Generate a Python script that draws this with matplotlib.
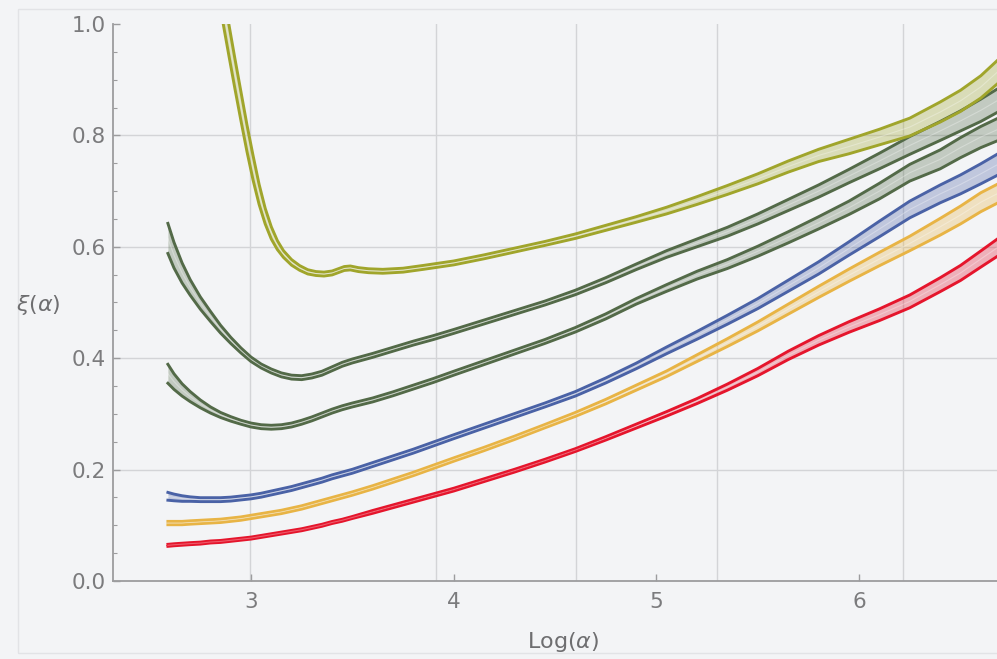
import numpy as np
import matplotlib
matplotlib.use("Agg")
import matplotlib.pyplot as plt
from matplotlib.ticker import MultipleLocator, FormatStrFormatter
from matplotlib.patches import Rectangle

plt.rcParams["font.family"] = ["DejaVu Sans"]
plt.rcParams["mathtext.fontset"] = "dejavusans"

# ---- data -------------------------------------------------------------
log_alpha = [2.59, 2.62, 2.66, 2.70, 2.75, 2.80, 2.85, 2.90, 2.95, 3.00,
             3.05, 3.10, 3.15, 3.20, 3.25, 3.30, 3.35, 3.40, 3.45, 3.50,
             3.60, 3.70, 3.80, 3.90, 4.00, 4.15, 4.30, 4.45, 4.60, 4.75,
             4.90, 5.05, 5.20, 5.35, 5.50, 5.65, 5.80, 5.95, 6.10, 6.25,
             6.40, 6.50, 6.60, 6.68]

red_mid = [0.064, 0.065, 0.066, 0.067, 0.068, 0.070, 0.071, 0.073, 0.075,
           0.077, 0.080, 0.083, 0.086, 0.089, 0.092, 0.096, 0.100, 0.105,
           0.109, 0.114, 0.124, 0.134, 0.144, 0.154, 0.164, 0.181, 0.198,
           0.216, 0.235, 0.256, 0.278, 0.300, 0.323, 0.348, 0.375, 0.405,
           0.432, 0.456, 0.478, 0.502, 0.532, 0.553, 0.578, 0.598]
red_err = [0.0018] * 20 + [0.0025] * 9 + [0.003, 0.0035, 0.004, 0.0045,
                                          0.0055, 0.0065, 0.0075, 0.0085,
                                          0.0095, 0.0105, 0.0115, 0.0125,
                                          0.0135, 0.0145, 0.0155]

yellow_mid = [0.104, 0.104, 0.104, 0.105, 0.106, 0.107, 0.108, 0.110, 0.112,
              0.115, 0.118, 0.121, 0.124, 0.128, 0.132, 0.137, 0.142, 0.147,
              0.152, 0.157, 0.168, 0.180, 0.192, 0.205, 0.218, 0.237, 0.257,
              0.278, 0.299, 0.322, 0.347, 0.372, 0.400, 0.428, 0.457, 0.488,
              0.519, 0.549, 0.578, 0.606, 0.636, 0.657, 0.680, 0.695]
yellow_err = [0.003] * 28 + [0.0035, 0.004, 0.0045, 0.005, 0.006, 0.007,
                             0.008, 0.009, 0.010, 0.011, 0.012, 0.013,
                             0.015, 0.016, 0.017, 0.017]

blue_mid = [0.152, 0.150, 0.148, 0.147, 0.146, 0.146, 0.146, 0.147, 0.149,
            0.151, 0.154, 0.158, 0.162, 0.166, 0.171, 0.176, 0.181, 0.187,
            0.192, 0.197, 0.209, 0.221, 0.233, 0.246, 0.259, 0.278, 0.297,
            0.316, 0.336, 0.360, 0.386, 0.414, 0.441, 0.469, 0.498, 0.530,
            0.562, 0.597, 0.632, 0.667, 0.695, 0.712, 0.731, 0.747]
blue_err = [0.007, 0.006, 0.005, 0.004] + [0.0035] * 24 + [
    0.004, 0.0045, 0.005, 0.006, 0.007, 0.008, 0.009, 0.010, 0.011, 0.012,
    0.014, 0.015, 0.016, 0.017, 0.018, 0.019]

green_lo_mid = [0.372, 0.358, 0.343, 0.331, 0.318, 0.307, 0.298, 0.291,
                0.285, 0.280, 0.277, 0.276, 0.277, 0.280, 0.285, 0.291,
                0.298, 0.305, 0.311, 0.316, 0.325, 0.336, 0.348, 0.360,
                0.373, 0.392, 0.411, 0.430, 0.451, 0.475, 0.502, 0.526,
                0.549, 0.569, 0.592, 0.617, 0.643, 0.670, 0.700, 0.733,
                0.757, 0.778, 0.797, 0.810]
green_lo_err = [0.017, 0.014, 0.011, 0.009, 0.007, 0.0055, 0.0045, 0.004] + \
    [0.0035] * 20 + [0.004, 0.0045, 0.005, 0.006, 0.007, 0.008, 0.009,
                     0.010, 0.011, 0.012, 0.014, 0.015, 0.017, 0.018, 0.019,
                     0.020]

green_hi_mid = [0.615, 0.585, 0.553, 0.527, 0.499, 0.475, 0.452, 0.432,
                0.414, 0.398, 0.386, 0.377, 0.370, 0.366, 0.365, 0.368,
                0.373, 0.381, 0.389, 0.395, 0.405, 0.416, 0.427, 0.437,
                0.448, 0.465, 0.482, 0.499, 0.518, 0.540, 0.564, 0.587,
                0.607, 0.627, 0.650, 0.675, 0.700, 0.727, 0.754, 0.782,
                0.808, 0.826, 0.845, 0.862]
green_hi_err = [0.027, 0.023, 0.018, 0.014, 0.011, 0.009, 0.007, 0.0055,
                0.0045, 0.004] + [0.0035] * 18 + [
    0.004, 0.0045, 0.005, 0.006, 0.007, 0.008, 0.009, 0.010, 0.011, 0.012,
    0.014, 0.016, 0.017, 0.018, 0.020, 0.021]

olive_x = [2.83, 2.86, 2.89, 2.92, 2.95, 2.98, 3.01, 3.04, 3.07, 3.10, 3.13,
           3.16, 3.20, 3.24, 3.28, 3.32, 3.36, 3.40, 3.43, 3.46, 3.49, 3.53,
           3.58, 3.65, 3.75, 3.85, 4.00, 4.15, 4.30, 4.45, 4.60, 4.75, 4.90,
           5.05, 5.20, 5.35, 5.50, 5.65, 5.80, 5.95, 6.10, 6.25, 6.40, 6.50,
           6.60, 6.68]
olive_mid = [1.100, 1.035, 0.973, 0.912, 0.853, 0.795, 0.742, 0.694, 0.655,
             0.625, 0.603, 0.587, 0.572, 0.562, 0.555, 0.552, 0.551, 0.553,
             0.557, 0.561, 0.562, 0.559, 0.557, 0.556, 0.558, 0.563, 0.571,
             0.582, 0.594, 0.606, 0.619, 0.634, 0.649, 0.665, 0.683, 0.702,
             0.722, 0.744, 0.764, 0.780, 0.797, 0.815, 0.842, 0.862, 0.887,
             0.913]
olive_err = [0.030, 0.029, 0.028, 0.027, 0.026, 0.024, 0.022, 0.018, 0.014,
             0.011, 0.008, 0.006, 0.005, 0.0042, 0.0038] + [0.0035] * 15 + [
    0.004, 0.0045, 0.005, 0.006, 0.007, 0.008, 0.009, 0.010, 0.011, 0.013,
    0.014, 0.016, 0.018, 0.019, 0.020, 0.021]

grid_alpha = [20, 50, 100, 200, 500]
grid_xi = [0.2, 0.4, 0.6, 0.8]

# ---- figure -----------------------------------------------------------
bg = "#f3f4f6"
fig = plt.figure(figsize=(9.97, 6.59), dpi=100, facecolor=bg)
fig.patches.append(Rectangle((18 / 997, 6 / 659), 1.0, 1 - 15 / 659,
                             transform=fig.transFigure, facecolor="none",
                             edgecolor="#e2e3e6", lw=1.0, zorder=0))
ax = fig.add_axes([0.1133, 0.1184, 0.8867, 0.8452])
ax.set_facecolor(bg)

for a in grid_alpha:
    ax.axvline(np.log(a), color="#d3d4d7", lw=1.0, zorder=0)
for g in grid_xi:
    ax.axhline(g, color="#d3d4d7", lw=1.0, zorder=0)

series = [
    (log_alpha, red_mid, red_err, "#e5152c"),
    (log_alpha, yellow_mid, yellow_err, "#e8b445"),
    (log_alpha, blue_mid, blue_err, "#4a62a6"),
    (log_alpha, green_lo_mid, green_lo_err, "#536a48"),
    (log_alpha, green_hi_mid, green_hi_err, "#536a48"),
    (olive_x, olive_mid, olive_err, "#a0a52b"),
]

for xs, mid, err, col in series:
    xs = np.asarray(xs)
    mid = np.asarray(mid)
    err = np.asarray(err)
    lo, hi = mid - err, mid + err
    ax.fill_between(xs, lo, hi, color=col, alpha=0.3, lw=0, zorder=2)
    ax.plot(xs, mid, color="white", alpha=0.3, lw=0.8, zorder=5)
    ax.plot(xs, hi, color=col, lw=2.1, zorder=4, solid_joinstyle="round")
    ax.plot(xs, lo, color=col, lw=2.1, zorder=4, solid_joinstyle="round")

ax.set_xlim(2.319, 6.68)
ax.set_ylim(0.0, 1.0)

for s in ("top", "right"):
    ax.spines[s].set_visible(False)
for s in ("left", "bottom"):
    ax.spines[s].set_color("#9c9c9e")
    ax.spines[s].set_linewidth(1.3)

ax.set_xticks([3, 4, 5, 6])
ax.set_yticks([0.0, 0.2, 0.4, 0.6, 0.8, 1.0])
ax.yaxis.set_minor_locator(MultipleLocator(0.05))
ax.yaxis.set_major_formatter(FormatStrFormatter("%.1f"))
ax.tick_params(which="major", direction="in", length=5, width=1.0,
               color="#9c9c9e", labelcolor="#7b7b7d", labelsize=15.5)
ax.tick_params(which="minor", direction="in", length=3, width=0.8,
               color="#9c9c9e")
ax.tick_params(axis="x", pad=8)
ax.tick_params(axis="y", pad=5)

fig.text(0.5647, 0.026, r"Log($\alpha$)", ha="center", va="center",
         fontsize=16, color="#6e6e70")
fig.text(0.038, 0.537, r"$\xi(\alpha)$", ha="center", va="center",
         fontsize=16, color="#6e6e70")

fig.savefig("out.png", dpi=100, facecolor=bg)
